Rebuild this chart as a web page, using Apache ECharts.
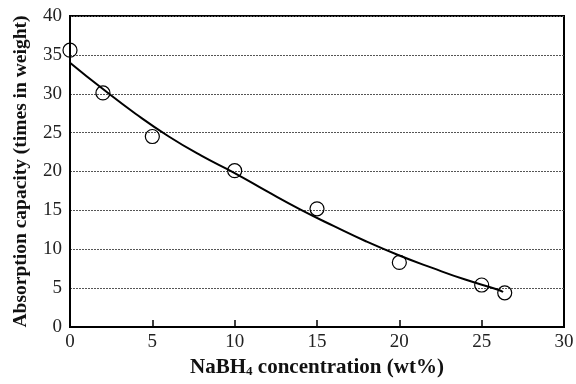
<!DOCTYPE html>
<html>
<head>
<meta charset="utf-8">
<script src="https://cdn.jsdelivr.net/npm/echarts@6/dist/echarts.min.js"></script>
<style>html,body{margin:0;padding:0;background:#fff}#c{width:576px;height:384px}</style>
</head>
<body>
<div id="c"></div>
<script>
// measured points
var concX = [0, 2, 5, 10, 15, 20, 25, 26.4];
var capacityY = [35.6, 30.1, 24.5, 20.1, 15.2, 8.3, 5.4, 4.4];
// fitted curve
var fitX = [0, 2, 4, 6, 8, 10, 12, 14, 16, 18, 20, 22, 24, 26, 26.3];
var fitY = [34.0, 30.6, 27.4, 24.5, 22.0, 19.8, 17.4, 15.1, 13.0, 11.0, 9.2, 7.6, 6.1, 4.8, 4.5];
var yTicks = [0, 5, 10, 15, 20, 25, 30, 35, 40];
var xTicks = [0, 5, 10, 15, 20, 25, 30];

var font = '"Liberation Serif", "Times New Roman", serif';
var chart = echarts.init(document.getElementById('c'), null, {renderer: 'canvas'});
chart.setOption({
  animation: false,
  backgroundColor: '#fff',
  grid: {left: 70, right: 12, top: 16, bottom: 57, containLabel: false, outerBoundsMode: 'none',
         show: true, borderColor: '#000', borderWidth: 2, backgroundColor: 'transparent'},
  xAxis: {
    type: 'value', min: xTicks[0], max: xTicks[xTicks.length - 1], interval: 5,
    axisLine: {show: true, onZero: false, lineStyle: {color: '#000', width: 2}},
    axisTick: {show: true, inside: true, length: 7, lineStyle: {color: '#000', width: 1.5, opacity: 1}},
    splitLine: {show: false},
    axisLabel: {color: '#222', fontFamily: font, fontSize: 19, margin: 6},
    name: '{b|NaBH}{s|4}{b| concentration (wt%)}',
    nameLocation: 'middle', nameGap: 24,
    nameTextStyle: {
      rich: {
        b: {fontFamily: font, fontWeight: 'bold', fontSize: 21, color: '#111'},
        s: {fontFamily: font, fontWeight: 'bold', fontSize: 13, color: '#111', padding: [9, 0, 0, 0]}
      }
    },
    z: 10
  },
  yAxis: {
    type: 'value', min: yTicks[0], max: yTicks[yTicks.length - 1], interval: 5,
    axisLine: {show: true, onZero: false, lineStyle: {color: '#000', width: 2}},
    axisTick: {show: false},
    splitLine: {show: true, lineStyle: {color: '#555', type: [2, 1], width: 1}},
    axisLabel: {color: '#222', fontFamily: font, fontSize: 19, margin: 8},
    name: 'Absorption capacity (times in weight)',
    nameLocation: 'middle', nameGap: 39,
    nameTextStyle: {fontFamily: font, fontWeight: 'bold', fontSize: 19.5, color: '#111'}
  },
  series: [
    {
      type: 'line', smooth: true, showSymbol: false, symbol: 'none',
      data: fitX.map(function (x, i) { return [x, fitY[i]]; }),
      lineStyle: {color: '#000', width: 2}, z: 3
    },
    {
      type: 'scatter', symbol: 'circle', symbolSize: 14,
      data: concX.map(function (x, i) { return [x, capacityY[i]]; }),
      itemStyle: {color: 'rgba(0,0,0,0)', borderColor: '#000', borderWidth: 1.2, opacity: 1},
      z: 4
    }
  ]
});
</script>
</body>
</html>
